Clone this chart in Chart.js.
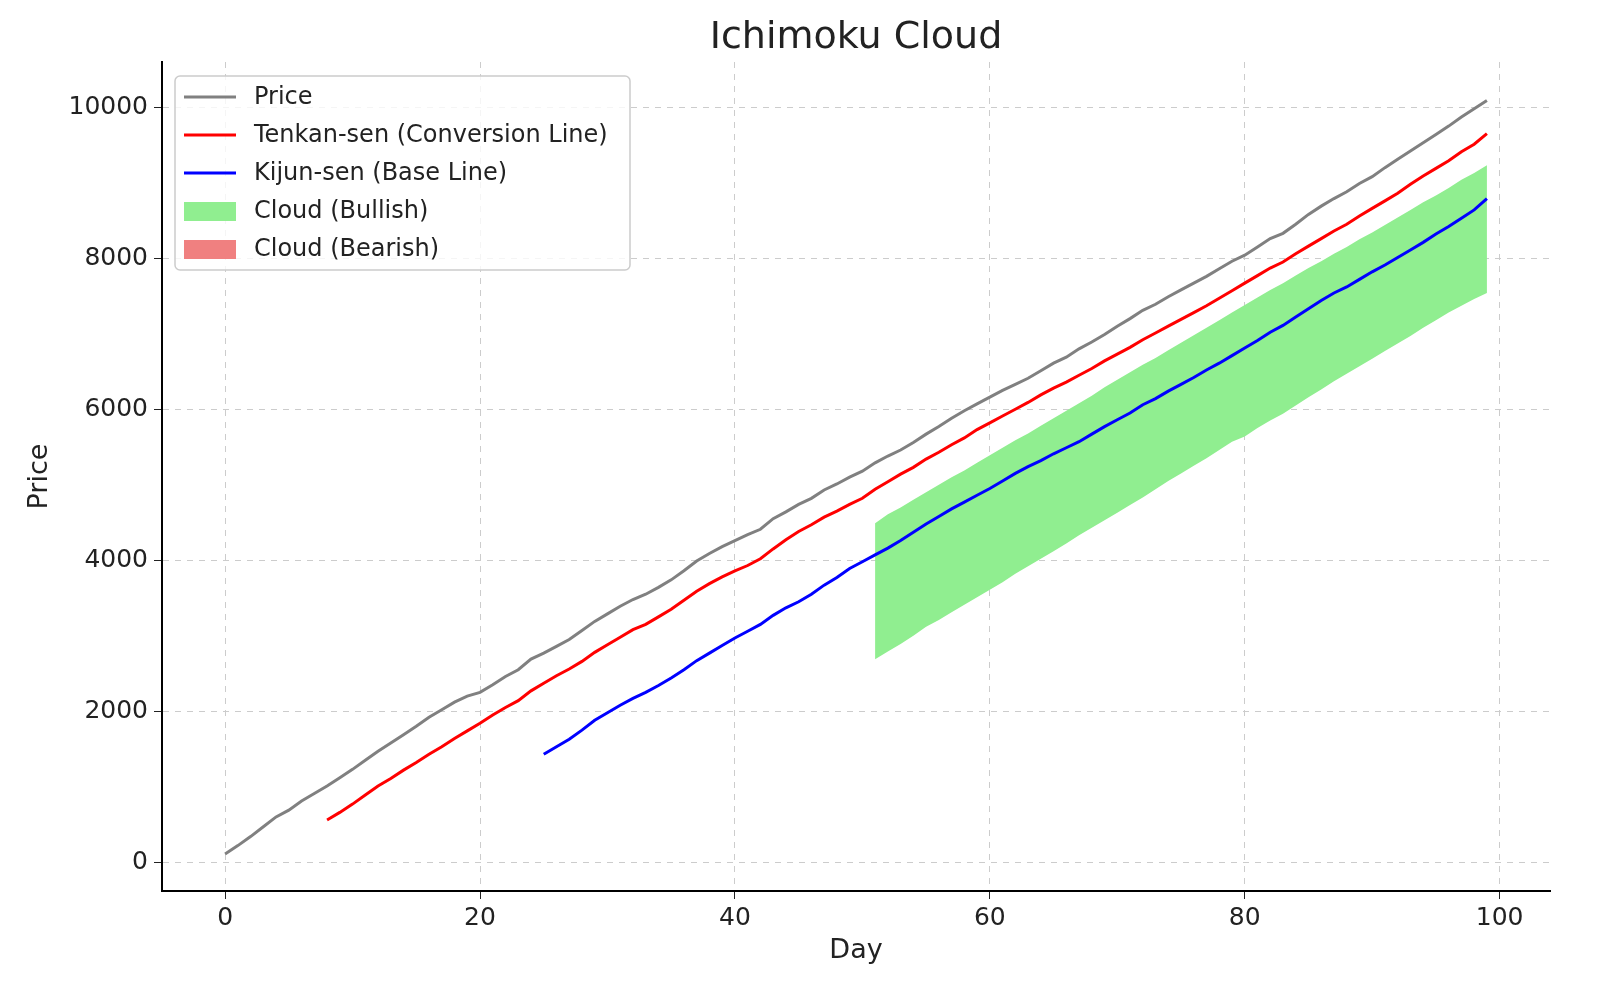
<!DOCTYPE html>
<html><head><meta charset="utf-8">
<script src="https://cdn.jsdelivr.net/npm/chart.js@4"></script>
<style>html,body{margin:0;padding:0;background:#fff;overflow:hidden}#w{width:100vw;height:100vh;position:relative}</style>
</head><body><div id="w"><canvas id="c"></canvas></div>
<script>
const price=[120,230,350,480,610,700,820,920,1020,1130,1240,1360,1480,1590,1700,1810,1930,2030,2130,2210,2260,2360,2470,2560,2700,2780,2870,2960,3080,3200,3300,3400,3490,3560,3650,3750,3870,4000,4100,4190,4270,4350,4420,4560,4650,4750,4830,4940,5020,5110,5190,5300,5390,5470,5570,5680,5780,5890,5990,6080,6170,6260,6340,6420,6520,6620,6700,6810,6900,7000,7110,7210,7320,7400,7500,7590,7680,7770,7870,7970,8050,8160,8270,8340,8460,8590,8700,8800,8890,9000,9090,9210,9320,9430,9540,9650,9760,9880,9990,10100];
const tenkanStart=8;
const tenkan=[570,670,780,900,1020,1120,1230,1330,1440,1540,1650,1750,1850,1960,2060,2150,2280,2380,2480,2570,2670,2790,2890,2990,3090,3160,3260,3360,3480,3600,3700,3790,3870,3940,4030,4160,4280,4390,4480,4580,4660,4750,4830,4950,5050,5150,5240,5350,5440,5540,5630,5740,5830,5920,6010,6100,6200,6290,6370,6460,6550,6650,6740,6830,6930,7020,7110,7200,7290,7380,7480,7580,7680,7780,7880,7960,8070,8170,8270,8370,8460,8570,8670,8770,8870,8990,9100,9200,9300,9420,9520,9660];
const kijunStart=25;
const kijun=[1440,1540,1640,1760,1890,1990,2090,2180,2260,2350,2450,2560,2680,2780,2880,2980,3070,3160,3280,3380,3460,3560,3680,3780,3900,3990,4080,4170,4270,4380,4490,4590,4690,4780,4870,4960,5060,5160,5250,5330,5420,5500,5580,5680,5780,5870,5960,6070,6150,6250,6340,6430,6530,6620,6720,6820,6920,7030,7120,7230,7340,7450,7550,7630,7730,7830,7920,8020,8120,8220,8330,8430,8540,8650,8800];
const cloudStart=51;
const spanA=[4500,4620,4710,4810,4910,5010,5110,5200,5300,5400,5500,5600,5690,5790,5890,5990,6090,6190,6300,6400,6500,6600,6690,6790,6890,6990,7090,7190,7290,7390,7490,7590,7680,7780,7880,7970,8070,8160,8260,8350,8450,8550,8650,8750,8840,8940,9050,9140,9240];
const spanB=[2700,2800,2900,3010,3130,3220,3320,3420,3520,3620,3720,3830,3930,4030,4130,4230,4340,4440,4540,4640,4740,4840,4950,5060,5160,5260,5360,5470,5580,5650,5760,5860,5950,6060,6170,6270,6380,6480,6580,6680,6780,6880,6980,7090,7190,7290,7380,7470,7550];
const xTicks=[0,20,40,60,80,100];
const yTicks=[0,2000,4000,6000,8000,10000];

const s=window.innerWidth/1600;
const pts=(arr,st)=>arr.map((v,i)=>({x:st+i,y:v}));
const F='"DejaVu Sans", sans-serif';
const legendPlugin={id:'lg',afterDraw(ch){
  const c=ch.ctx;c.save();c.scale(s,s);
  c.fillStyle='rgba(255,255,255,0.8)';c.strokeStyle='#ccc';c.lineWidth=1.5;
  const x0=175,y0=76,w=455,h=194;
  c.beginPath();c.roundRect(x0,y0,w,h,5);c.fill();c.stroke();
  const items=[['Price','#808080','l'],['Tenkan-sen (Conversion Line)','#ff0000','l'],['Kijun-sen (Base Line)','#0000ff','l'],['Cloud (Bullish)','#90ee90','b'],['Cloud (Bearish)','#f08080','b']];
  c.font='24px '+F;c.textBaseline='middle';c.textAlign='left';
  items.forEach((it,i)=>{const y=97+i*38;
    if(it[2]=='l'){c.strokeStyle=it[1];c.lineWidth=3;c.beginPath();c.moveTo(184,y);c.lineTo(236,y);c.stroke();}
    else{c.fillStyle=it[1];c.fillRect(184,y-9,52,19);}
    c.fillStyle='#222';c.fillText(it[0],254,y+1);});
  c.font='38px '+F;c.textAlign='center';c.fillStyle='#222';c.textBaseline='alphabetic';
  c.fillText('Ichimoku Cloud',856,48);
  c.restore();}};
new Chart(document.getElementById('c'),{type:'line',
 data:{datasets:[
  {label:'Price',data:pts(price,0),borderColor:'#808080',borderWidth:3*s,pointRadius:0,fill:false},
  {label:'Tenkan-sen (Conversion Line)',data:pts(tenkan,tenkanStart),borderColor:'#ff0000',borderWidth:3*s,pointRadius:0,fill:false},
  {label:'Kijun-sen (Base Line)',data:pts(kijun,kijunStart),borderColor:'#0000ff',borderWidth:3*s,pointRadius:0,fill:false},
  {label:'Cloud (Bullish)',data:pts(spanA,cloudStart),borderWidth:0,borderColor:'rgba(0,0,0,0)',backgroundColor:'#90ee90',pointRadius:0,fill:'+1'},
  {label:'lower',data:pts(spanB,cloudStart),borderWidth:0,borderColor:'rgba(0,0,0,0)',pointRadius:0,fill:false}
 ]},
 options:{responsive:true,maintainAspectRatio:false,animation:false,layout:{padding:{top:62*s,right:50*s,left:24*s,bottom:40*s}},
  plugins:{legend:{display:false},tooltip:{enabled:false},title:{display:false}},
  scales:{
   x:{type:'linear',min:-4.95,max:103.95,
    afterBuildTicks:a=>{a.ticks=xTicks.map(v=>({value:v}));},
    afterFit:a=>{a.height=76*s;},
    ticks:{font:{size:25*s,family:F},color:'#222',padding:4*s,maxRotation:0,callback:v=>String(v)},
    grid:{color:'#ccc',tickColor:'#222',tickLength:8*s},
    border:{display:true,color:'#000',width:2*s,dash:[6*s,6*s]},
    title:{display:true,text:'Day',font:{size:27*s,family:F},color:'#222',padding:0}},
   y:{min:-371,max:10609,
    afterBuildTicks:a=>{a.ticks=yTicks.map(v=>({value:v}));},
    afterFit:a=>{a.width=138*s;},
    ticks:{font:{size:25*s,family:F},color:'#222',padding:6*s,callback:v=>String(v)},
    grid:{color:'#ccc',tickColor:'#222',tickLength:8*s},
    border:{display:true,color:'#000',width:2*s,dash:[6*s,6*s]},
    title:{display:true,text:'Price',font:{size:27*s,family:F},color:'#222',padding:0}}
  }},
 plugins:[legendPlugin]});
</script></body></html>
